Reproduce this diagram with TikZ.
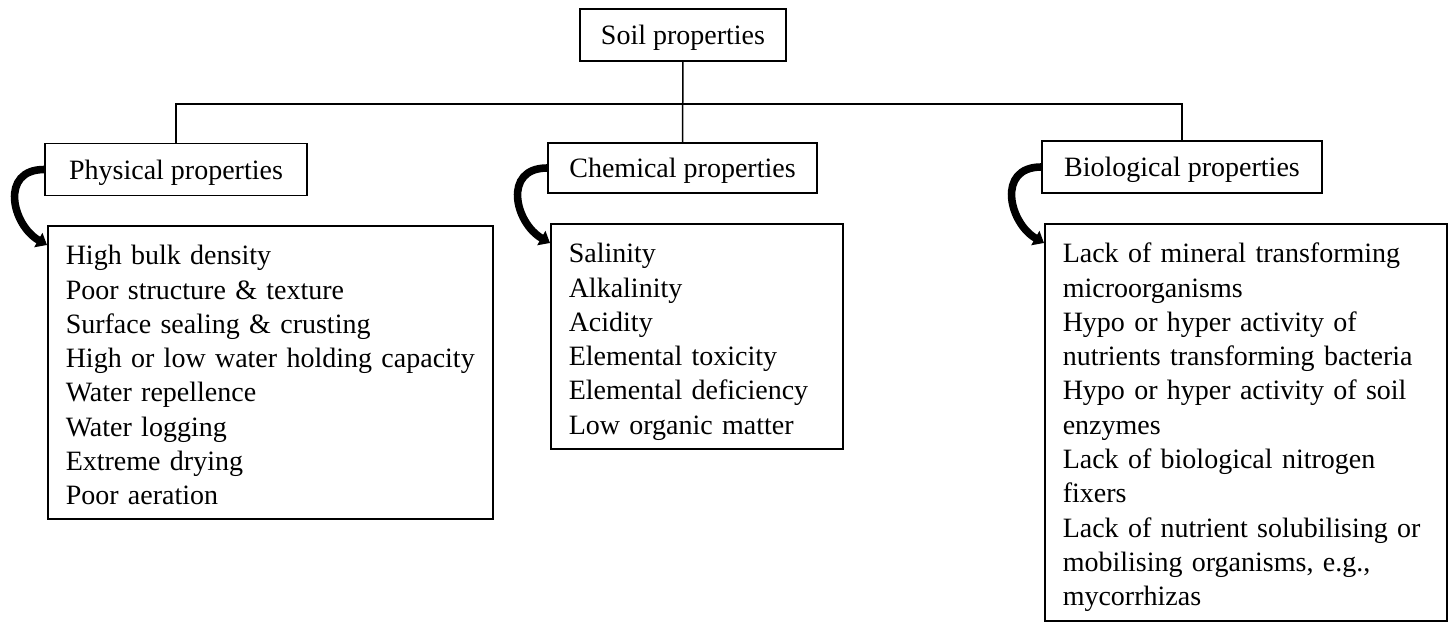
\documentclass[tikz,border=0pt]{standalone}
\usepackage{fontspec}
\setmainfont{Liberation Serif}
\usetikzlibrary{arrows.meta,positioning}

\begin{document}
\begin{tikzpicture}[x=0.5pt, y=-0.5pt, line width=0.75pt,
  font=\fontsize{14}{17.15}\selectfont,
  hd/.style={draw, minimum height=26pt, inner sep=0pt, text depth=0pt},
  lst/.style={draw, anchor=north west, align=left, inner xsep=9pt, inner ysep=10pt, text height=9.5pt},
  e/.style={-{Triangle[length=5pt,width=8pt]}, line width=3.8pt}]
\useasboundingbox (0,0) rectangle (1448,622);
\node[hd, minimum width=103pt] (soil) at (683,35) {Soil properties};
\node[hd, minimum width=131pt] (phys) at (176,169.5) {Physical properties};
\node[hd, minimum width=134.5pt, minimum height=25pt] (chem) at (682.5,168) {Chemical properties};
\node[hd, minimum width=140pt] (bio) at (1182,167) {Biological properties};
% lists
\node[lst, text width=204.5pt, text depth=117pt] (physlist) at (47,225) {High bulk density\\Poor structure \& texture\\Surface sealing \& crusting\\\mbox{High or low water holding capacity}\\Water repellence\\Water logging\\Extreme drying\\Poor aeration};
\node[lst, text width=128pt, text depth=83pt] (chemlist) at (550,223) {Salinity\\Alkalinity\\Acidity\\Elemental toxicity\\Elemental deficiency\\Low organic matter};
\node[lst, text width=183pt, text depth=169pt] (biolist) at (1044,223) {Lack of mineral transforming\\microorganisms\\Hypo or hyper activity of\\nutrients transforming bacteria\\Hypo or hyper activity of soil\\enzymes\\Lack of biological nitrogen\\fixers\\Lack of nutrient solubilising or\\mobilising organisms, e.g.,\\mycorrhizas};
% tree
\coordinate (bus) at (683,104);
\draw (soil) -- (chem);
\draw (phys.north) |- (bus) -| (bio.north);
% curved arrows
\coordinate (physin) at ([yshift=-10pt]physlist.north west);
\coordinate (chemin) at ([yshift=-10pt]chemlist.north west);
\coordinate (bioin) at ([yshift=-10pt]biolist.north west);
\draw[e] (phys.west) .. controls +(-45,0) and +(-35,-20) .. (physin);
\draw[e] (chem.west) .. controls +(-45,0) and +(-35,-20) .. (chemin);
\draw[e] (bio.west) .. controls +(-45,0) and +(-35,-20) .. (bioin);
\end{tikzpicture}
\end{document}
